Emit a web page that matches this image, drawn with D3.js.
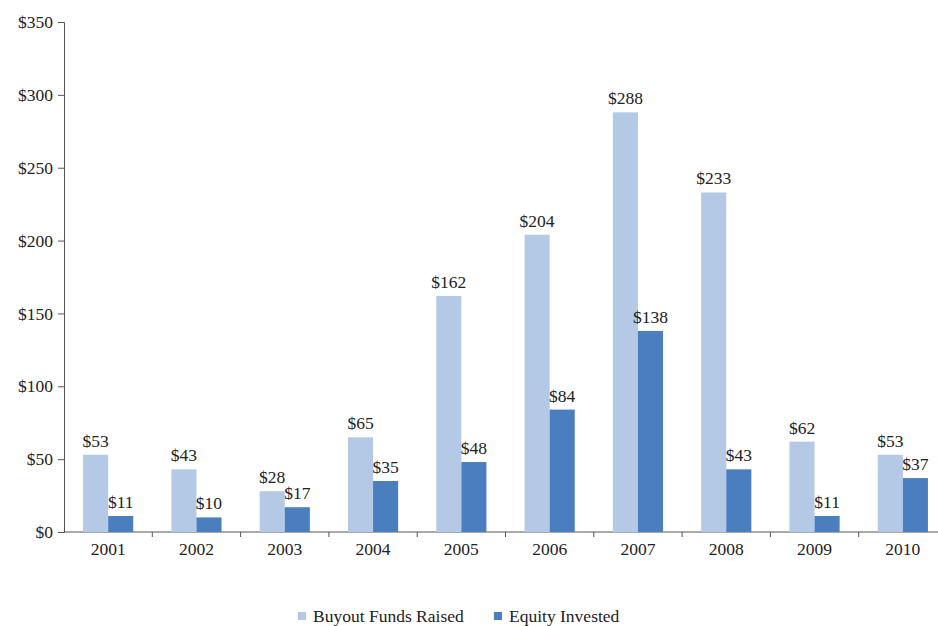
<!DOCTYPE html>
<html>
<head>
<meta charset="utf-8">
<script src="https://cdn.jsdelivr.net/npm/d3@7"></script>
<style>
  body { margin: 0; background: #fff; }
  svg { display: block; font-family: "Liberation Serif", "DejaVu Serif", serif; }
</style>
</head>
<body>
<div id="chart"></div>
<script>
const years = ['2001', '2002', '2003', '2004', '2005', '2006', '2007', '2008', '2009', '2010'];
const fundsRaised = [53, 43, 28, 65, 162, 204, 288, 233, 62, 53];
const equityInvested = [11, 10, 17, 35, 48, 84, 138, 43, 11, 37];
const yTicks = [0, 50, 100, 150, 200, 250, 300, 350];
const seriesNames = ['Buyout Funds Raised', 'Equity Invested'];
const colors = ['#b4c9e5', '#4a7ebf'];

const width = 938, height = 626;
const margin = {top: 22, left: 64, bottom: 94};
const plotBottom = height - margin.bottom;
const fontSize = 17.5;
const serif = '"Liberation Serif", "DejaVu Serif", serif';

const svg = d3.select('#chart').append('svg')
  .attr('width', width)
  .attr('height', height);

// x scale - last band runs a bit past the right edge like in the original
const x = d3.scaleBand()
  .domain(years)
  .range([margin.left, margin.left + 88.3 * years.length])
  .paddingInner(0)
  .paddingOuter(0);

const y = d3.scaleLinear()
  .domain([0, 350])
  .range([plotBottom, margin.top]);

const inner = d3.scaleBand()
  .domain([0, 1])
  .range([0, x.bandwidth()])
  .paddingOuter(0.76)
  .paddingInner(0);

// y axis
const yAxis = svg.append('g')
  .attr('transform', 'translate(' + margin.left + ',0)')
  .call(d3.axisLeft(y).tickValues(yTicks).tickSize(6).tickPadding(5).tickFormat(d => '$' + d))
  .attr('font-family', serif)
  .attr('font-size', fontSize);
yAxis.selectAll('text').attr('fill', '#222');
yAxis.selectAll('line, path').attr('stroke', '#555');

// x axis (ticks at band boundaries)
const xAxisG = svg.append('g').attr('class', 'xaxis');
xAxisG.append('line')
  .attr('x1', margin.left).attr('x2', width)
  .attr('y1', y(0)).attr('y2', y(0))
  .attr('stroke', '#555');
xAxisG.selectAll('.xtick')
  .data(years.slice(1))
  .enter()
  .append('line')
  .attr('x1', d => x(d)).attr('x2', d => x(d))
  .attr('y1', y(0)).attr('y2', y(0) + 5)
  .attr('stroke', '#555');
xAxisG.selectAll('.xlabel')
  .data(years)
  .enter()
  .append('text')
  .attr('x', d => x(d) + x.bandwidth() / 2)
  .attr('y', y(0) + 23)
  .attr('text-anchor', 'middle')
  .attr('font-size', fontSize)
  .attr('fill', '#222')
  .text(d => d);

// bars
const series = [fundsRaised, equityInvested];
series.forEach(function(vals, si) {
  const g = svg.append('g');
  g.selectAll('rect')
    .data(vals)
    .enter()
    .append('rect')
    .attr('x', (d, i) => x(years[i]) + inner(si))
    .attr('y', d => y(d))
    .attr('width', inner.bandwidth())
    .attr('height', d => y(0) - y(d))
    .attr('fill', colors[si]);
  g.selectAll('text')
    .data(vals)
    .enter()
    .append('text')
    .attr('x', (d, i) => x(years[i]) + inner(si) + inner.bandwidth() / 2)
    .attr('y', d => y(d) - 8)
    .attr('text-anchor', 'middle')
    .attr('font-size', fontSize)
    .attr('fill', '#222')
    .text(d => '$' + d);
});

// legend
const legendX = [298, 494];
const legend = svg.append('g');
seriesNames.forEach(function(name, i) {
  legend.append('rect')
    .attr('x', legendX[i]).attr('y', 612)
    .attr('width', 8).attr('height', 8)
    .attr('fill', colors[i]);
  legend.append('text')
    .attr('x', legendX[i] + 15).attr('y', 622)
    .attr('font-size', fontSize)
    .attr('fill', '#222')
    .text(name);
});
</script>
</body>
</html>
